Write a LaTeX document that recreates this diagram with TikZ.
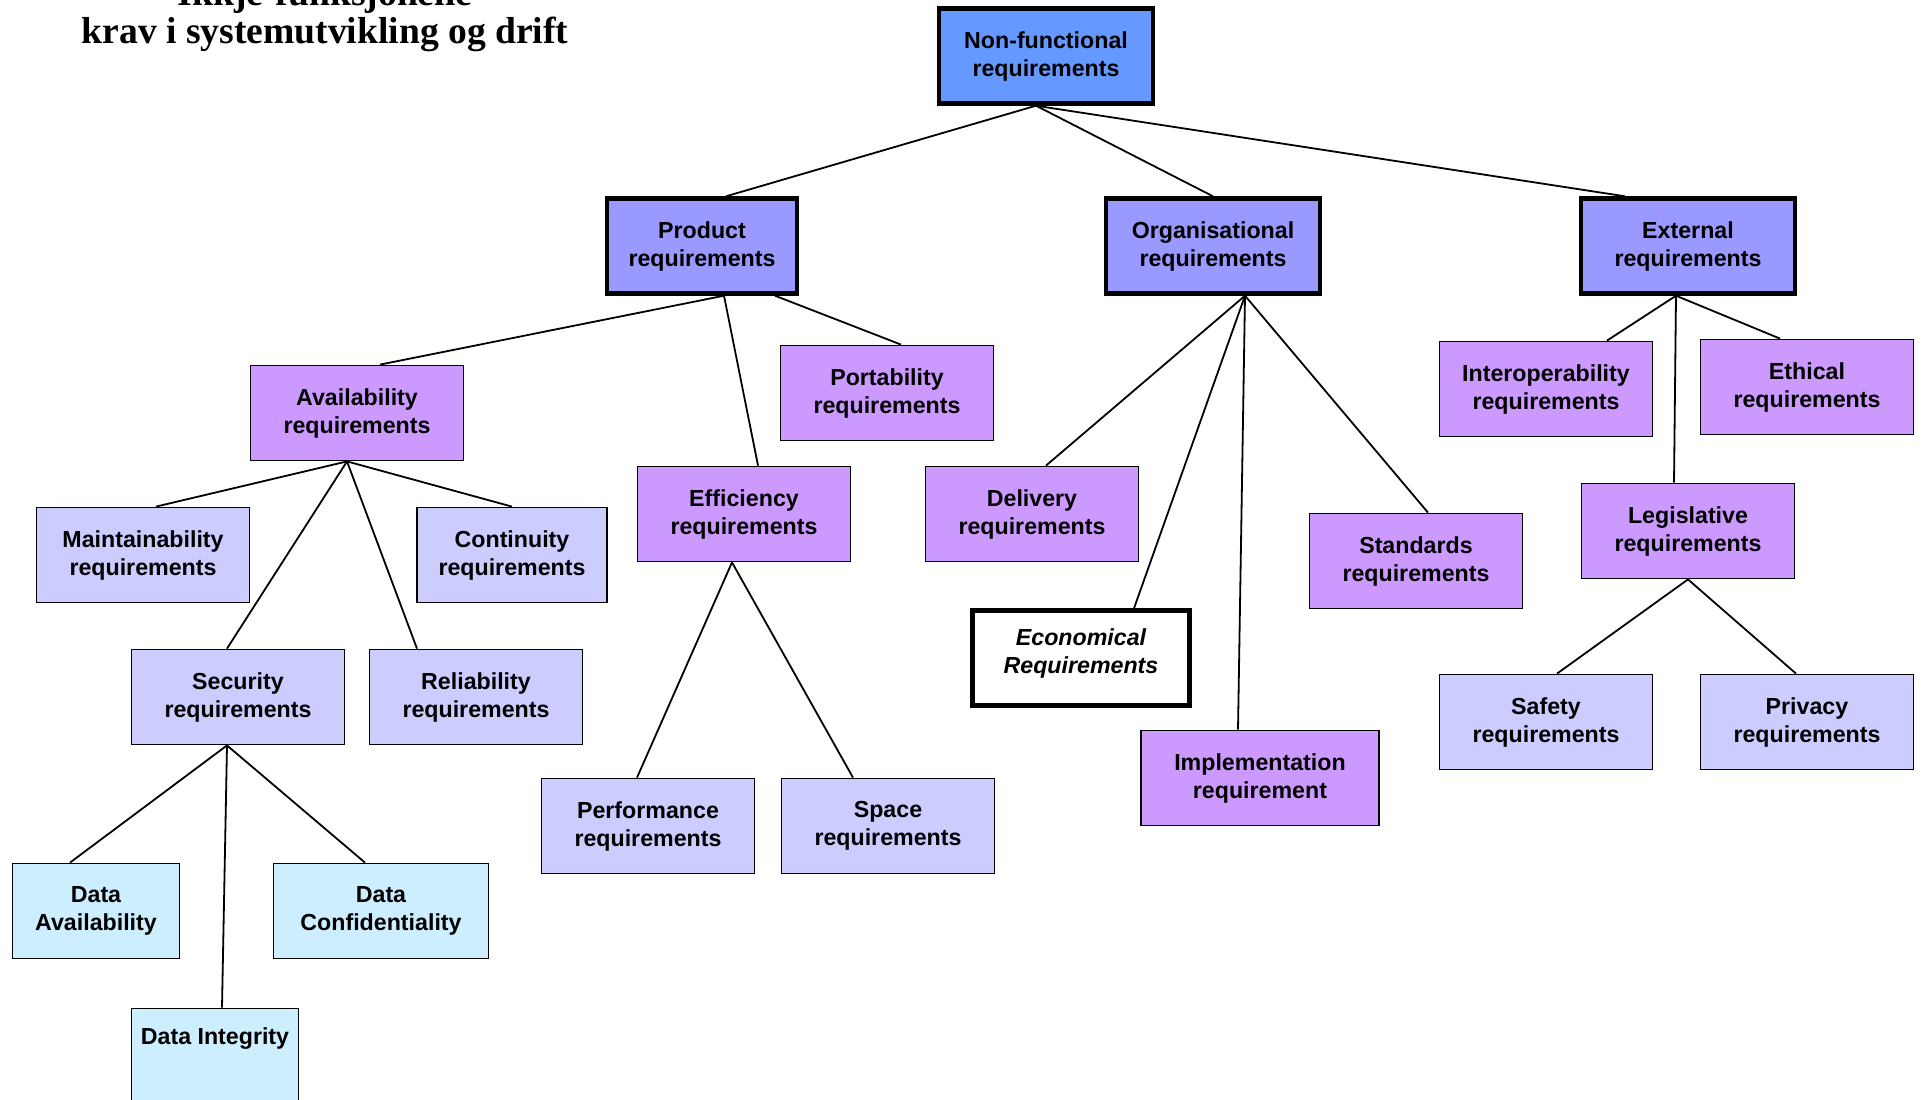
\documentclass[tikz,border=0pt]{standalone}
\usepackage{fontspec}
\setmainfont{Liberation Sans}
\newfontfamily\titlefont{Liberation Serif}
\usepackage{tikz}

\definecolor{rootblue}{HTML}{6699FF}
\definecolor{groupblue}{HTML}{9999FF}
\definecolor{reqpurple}{HTML}{CC99FF}
\definecolor{sublilac}{HTML}{CCCCFF}
\definecolor{leafblue}{HTML}{CCEEFF}

\begin{document}
\begin{tikzpicture}[x=0.5pt, y=-0.5pt,
    box/.style={shape=rectangle, draw=black, line width=0.9pt, align=center,
      minimum width=106.5pt, minimum height=47.5pt, inner sep=0pt,
      font=\fontsize{11.6}{14}\selectfont\bfseries},
    heavybox/.style={box, line width=2.2pt},
    title/.style={anchor=base, font=\titlefont\fontsize{18.8}{19}\selectfont\bfseries},
    link/.style={line width=0.9pt}]
      \useasboundingbox (0,0) rectangle (1922,1099);

      \node[title] (Title1) at (325,5) {Ikkje-funksjonelle};
      \node[title] (Title2) at (325,43) {krav i systemutvikling og drift};

      % top and first level
      \node[heavybox, fill=rootblue, minimum width=107pt] (NonFunc) at (1046,56)
           {Non-functional\\requirements};
      \node[heavybox, fill=groupblue, minimum width=95pt] (Product) at (702,246)
           {Product\\requirements};
      \node[heavybox, fill=groupblue, minimum width=107pt] (Organ) at (1213,246)
           {Organisational\\requirements};
      \node[heavybox, fill=groupblue, minimum width=107pt] (External) at (1688,246)
           {External\\requirements};

      % second level
      \node[box, fill=reqpurple] (Avail) at (357,413) {Availability\\requirements};
      \node[box, fill=reqpurple] (Port) at (887,393) {Portability\\requirements};
      \node[box, fill=reqpurple] (Effic) at (744,514) {Efficiency\\requirements};
      \node[box, fill=reqpurple] (Deliv) at (1032,514) {Delivery\\requirements};
      \node[heavybox, fill=white, minimum width=108.5pt,
            font=\fontsize{11.6}{14}\selectfont\bfseries\itshape] (Econ) at (1081,658)
           {Economical\\Requirements\rule[-7pt]{0pt}{0pt}};
      \node[box, fill=reqpurple, minimum width=119pt] (Impl) at (1260,778)
           {Implementation\\requirement};
      \node[box, fill=reqpurple] (Stand) at (1416,561) {Standards\\requirements};
      \node[box, fill=reqpurple] (Interop) at (1546,389) {Interoperability\\requirements};
      \node[box, fill=reqpurple] (Ethic) at (1807,387) {Ethical\\requirements};
      \node[box, fill=reqpurple] (Legis) at (1688,531) {Legislative\\requirements};

      % third level
      \node[box, fill=sublilac] (Maint) at (143,555) {Maintainability\\requirements};
      \node[box, fill=sublilac, minimum width=95pt] (Contin) at (512,555)
           {Continuity\\requirements};
      \node[box, fill=sublilac] (Secur) at (238,697) {Security\\requirements};
      \node[box, fill=sublilac] (Relia) at (476,697) {Reliability\\requirements};
      \node[box, fill=sublilac] (Perf) at (648,826) {Performance\\requirements};
      \node[box, fill=sublilac] (Space) at (888,826) {Space\\requirements};
      \node[box, fill=sublilac] (Safety) at (1546,722) {Safety\\requirements};
      \node[box, fill=sublilac] (Privacy) at (1807,722) {Privacy\\requirements};

      % data leaves
      \node[box, fill=leafblue, minimum width=83.5pt] (DataAv) at (96,911)
           {Data\\Availability};
      \node[box, fill=leafblue, minimum width=107.5pt] (DataConf) at (381,911)
           {Data\\Confidentiality};
      \node[box, fill=leafblue, minimum width=83.5pt] (DataInt) at (215,1056)
           {Data Integrity\\\rule[-6pt]{0pt}{0pt}};

      \path [link] ([xshift=-5pt]NonFunc.south) edge ([xshift=12pt]Product.north);
      \path [link] ([xshift=-5pt]NonFunc.south) edge (Organ.north);
      \path [link] ([xshift=-5pt]NonFunc.south) edge ([xshift=-31.5pt]External.north);

      \path [link] ([xshift=11pt]Product.south) edge ([xshift=11.5pt]Avail.north);
      \path [link] ([xshift=11pt]Product.south) edge ([xshift=7pt]Effic.north);
      \path [link] ([xshift=36.5pt]Product.south) edge ([xshift=7pt]Port.north);

      \path [link] ([xshift=-5pt]Avail.south) edge ([xshift=6.5pt]Maint.north);
      \path [link] ([xshift=-5pt]Avail.south) edge (Contin.north);
      \path [link] ([xshift=-5pt]Avail.south) edge ([xshift=-5.5pt]Secur.north);
      \path [link] ([xshift=-5pt]Avail.south) edge ([xshift=-29.5pt]Relia.north);

      \path [link] ([xshift=-5.5pt]Secur.south) edge ([xshift=-13pt]DataAv.north);
      \path [link] ([xshift=-5.5pt]Secur.south) edge ([xshift=-8pt]DataConf.north);
      \path [link] ([xshift=-5.5pt]Secur.south) edge ([xshift=3.5pt]DataInt.north);

      \path [link] ([xshift=-6pt]Effic.south) edge ([xshift=-5.5pt]Perf.north);
      \path [link] ([xshift=-6pt]Effic.south) edge ([xshift=-17.5pt]Space.north);

      \path [link] ([xshift=16pt]Organ.south) edge ([xshift=7pt]Deliv.north);
      \path [link] ([xshift=16pt]Organ.south) edge ([xshift=26.5pt]Econ.north);
      \path [link] ([xshift=16pt]Organ.south) edge ([xshift=-11pt]Impl.north);
      \path [link] ([xshift=16pt]Organ.south) edge ([xshift=6pt]Stand.north);

      \path [link] ([xshift=-6pt]External.south) edge ([xshift=30.5pt]Interop.north);
      \path [link] ([xshift=-6pt]External.south) edge ([xshift=-13.5pt]Ethic.north);
      \path [link] ([xshift=-6pt]External.south) edge ([xshift=-7pt]Legis.north);

      \path [link] (Legis.south) edge ([xshift=5.5pt]Safety.north);
      \path [link] (Legis.south) edge ([xshift=-5.5pt]Privacy.north);
\end{tikzpicture}
\end{document}
